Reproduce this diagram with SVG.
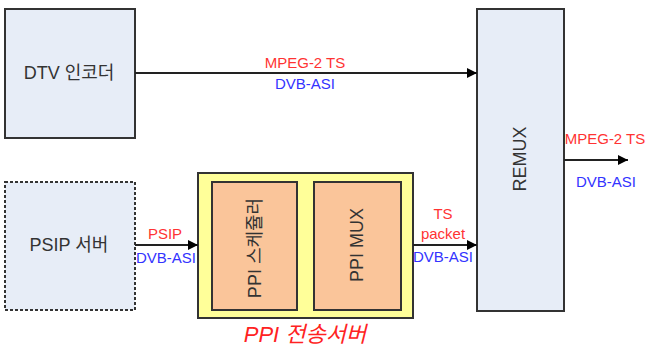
<svg xmlns="http://www.w3.org/2000/svg" width="646" height="347" viewBox="0 0 646 347">
  <defs>
    <marker id="arrow" viewBox="0 0 10 10" refX="10" refY="5" markerWidth="10" markerHeight="10" markerUnits="userSpaceOnUse" orient="auto">
      <path d="M0,0 L10,5 L0,10 z" fill="#000"/>
    </marker>
    <style>
      .box { fill: #e7edf7; stroke: #333; stroke-width: 2; }
      .dash { stroke-dasharray: 3 2; }
      .outer { fill: #ffff99; stroke: #333; stroke-width: 2; }
      .inner { fill: #fac59a; stroke: #333; stroke-width: 2; }
      .lbl { font-family: "Liberation Sans", Arial, "Noto Sans CJK KR", sans-serif; fill: #333; text-anchor: middle; dominant-baseline: central; }
      .big { font-size: 18px; }
      .red { font-family: "Liberation Sans", Arial, sans-serif; font-size: 15px; fill: #ff3333; text-anchor: middle; dominant-baseline: central; }
      .blue { font-family: "Liberation Sans", Arial, sans-serif; font-size: 15px; fill: #3333ff; text-anchor: middle; dominant-baseline: central; }
      .wire { stroke: #222; stroke-width: 2; fill: none; marker-end: url(#arrow); }
      .title { font-family: "Liberation Sans", Arial, "Noto Sans CJK KR", sans-serif; font-size: 22px; font-style: italic; fill: #ff2222; text-anchor: middle; dominant-baseline: central; }
    </style>
  </defs>

  <g id="dtv-encoder">
    <rect class="box" x="5" y="9" width="130" height="129"/>
    <text class="lbl big" x="69" y="73">DTV 인코더</text>
  </g>

  <g id="psip-server">
    <rect class="box dash" x="5" y="182" width="130" height="128"/>
    <text class="lbl big" x="69" y="245">PSIP 서버</text>
  </g>

  <g id="ppi-server">
    <rect class="outer" x="198" y="173" width="215" height="145"/>
    <text class="title" x="305" y="334">PPI 전송서버</text>
  </g>

  <g id="ppi-scheduler">
    <rect class="inner" x="212" y="182" width="85" height="128"/>
    <text class="lbl big" transform="translate(255,248) rotate(-90)" x="0" y="0">PPI 스케쥴러</text>
  </g>

  <g id="ppi-mux">
    <rect class="inner" x="314" y="182" width="87" height="128"/>
    <text class="lbl" style="font-size:18px" transform="translate(357,245) rotate(-90)" x="0" y="0">PPI MUX</text>
  </g>

  <g id="remux">
    <rect class="box" x="477" y="9" width="87" height="302"/>
    <text class="lbl" style="font-size:18px" transform="translate(520,159) rotate(-90)" x="0" y="0">REMUX</text>
  </g>

  <g id="connectors">
    <line class="wire" x1="135" y1="73" x2="477" y2="73"/>
    <text class="red" x="305" y="62">MPEG-2 TS</text>
    <text class="blue" x="305" y="83">DVB-ASI</text>

    <line class="wire" x1="135" y1="245" x2="198" y2="245"/>
    <text class="red" x="165" y="233">PSIP</text>
    <text class="blue" x="166" y="257">DVB-ASI</text>

    <line class="wire" x1="413" y1="245" x2="477" y2="245"/>
    <text class="red" x="443" y="213">TS</text>
    <text class="red" x="443" y="233">packet</text>
    <text class="blue" x="443" y="256">DVB-ASI</text>

    <line class="wire" x1="564" y1="160" x2="628" y2="160"/>
    <text class="red" x="605" y="138">MPEG-2 TS</text>
    <text class="blue" x="606" y="181">DVB-ASI</text>
  </g>
</svg>
